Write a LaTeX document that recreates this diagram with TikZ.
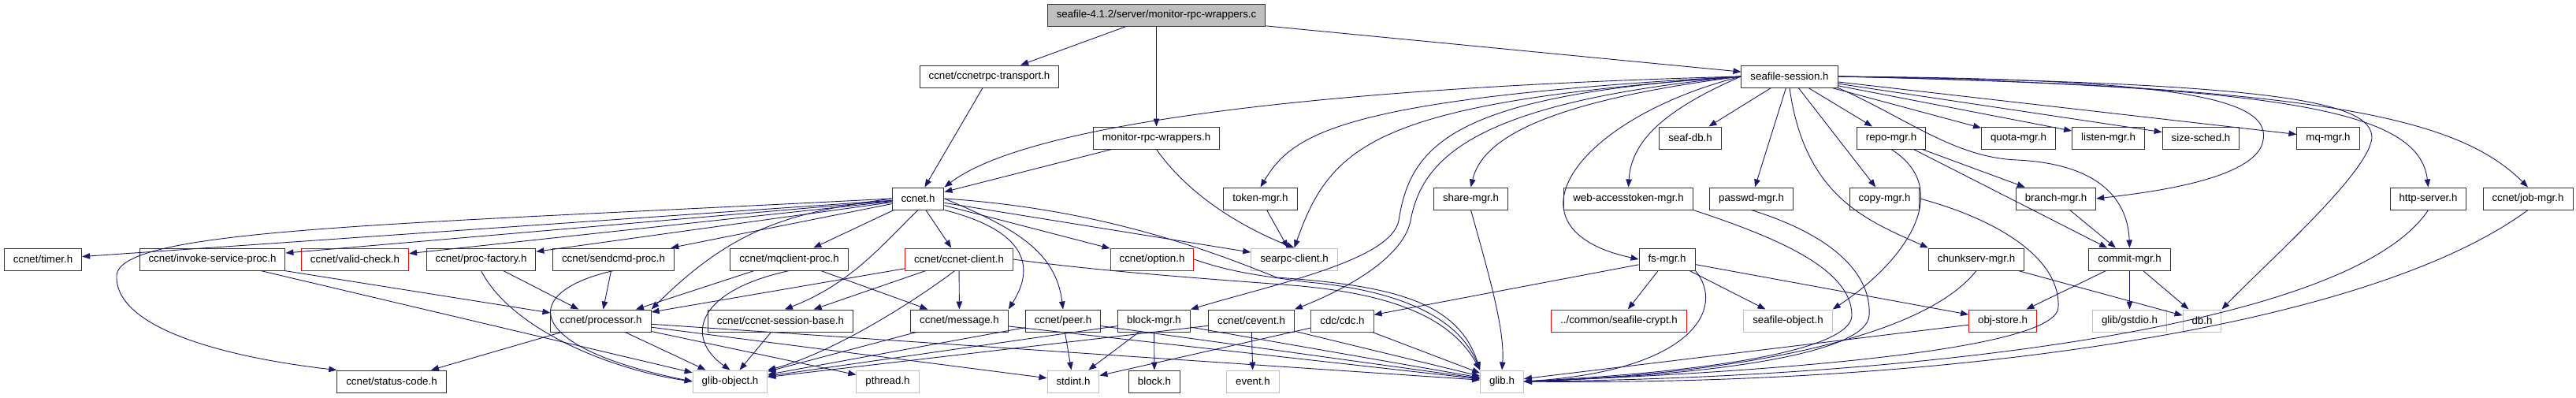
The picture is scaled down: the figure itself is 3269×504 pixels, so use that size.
\documentclass[tikz,border=0pt]{standalone}
\usepackage{fontspec}
\setmainfont{Liberation Sans}
\usetikzlibrary{positioning, arrows.meta}

\definecolor{depblue}{HTML}{191970}
\definecolor{lightgray}{HTML}{BFBFBF}

\begin{document}
\begin{tikzpicture}[x=1pt, y=-1pt, ->, >={Triangle[length=10pt,width=7.5pt]},
  file/.style={draw=black!80, line width=1pt, fill=white, inner xsep=11.5pt, inner ysep=0pt,
               minimum height=28pt, font=\fontsize{13.3}{15}\selectfont},
  redfile/.style={file, draw=red},
  sysfile/.style={file, draw=lightgray},
  mainfile/.style={file, fill=lightgray},
  every edge/.style={draw=depblue, line width=0.9pt},
  dep/.style={draw=depblue, line width=0.9pt}]
  \useasboundingbox (0,0) rectangle (3269,504);

  % rows 0-3
  \node[mainfile] (main) at (1467.5,19.5) {seafile-4.1.2/server/monitor-rpc-wrappers.c};
  \node[file] (rpctrans) at (1255.5,97) {ccnet/ccnetrpc-transport.h};
  \node[file] (session) at (2271,97) {seafile-session.h};
  \node[file] (monwrap) at (1467.5,175) {monitor-rpc-wrappers.h};
  \node[file] (seafdb) at (2145,175) {seaf-db.h};
  \node[file] (repomgr) at (2400,175) {repo-mgr.h};
  \node[file] (quotamgr) at (2561.5,175) {quota-mgr.h};
  \node[file] (listenmgr) at (2675.5,175) {listen-mgr.h};
  \node[file] (sizesched) at (2793,175) {size-sched.h};
  \node[file] (mqmgr) at (2954.5,175) {mq-mgr.h};
  \node[file] (ccnet) at (1165,252) {ccnet.h};
  \node[file] (tokenmgr) at (1599.5,252) {token-mgr.h};
  \node[file] (sharemgr) at (1866.5,252) {share-mgr.h};
  \node[file] (webtoken) at (2066.5,252) {web-accesstoken-mgr.h};
  \node[file] (passwdmgr) at (2222.5,252) {passwd-mgr.h};
  \node[file] (copymgr) at (2391.5,252) {copy-mgr.h};
  \node[file] (branchmgr) at (2609,252) {branch-mgr.h};
  \node[file] (httpserver) at (3081.5,252) {http-server.h};
  \node[file] (jobmgr) at (3208,252) {ccnet/job-mgr.h};

  % row 4
  \node[file] (timer) at (54.5,329) {ccnet/timer.h};
  \node[file] (invoke) at (269.5,329) {ccnet/invoke-service-proc.h};
  \node[redfile] (validcheck) at (450.5,329) {ccnet/valid-check.h};
  \node[file] (procfactory) at (610.5,329) {ccnet/proc-factory.h};
  \node[file] (sendcmd) at (778.5,329) {ccnet/sendcmd-proc.h};
  \node[file] (mqclient) at (1001.5,329) {ccnet/mqclient-proc.h};
  \node[redfile] (client) at (1217,329) {ccnet/ccnet-client.h};
  \node[redfile] (option) at (1462,329) {ccnet/option.h};
  \node[sysfile] (searpc) at (1642.5,329) {searpc-client.h};
  \node[file] (fsmgr) at (2115.5,329) {fs-mgr.h};
  \node[file] (chunkserv) at (2508,329) {chunkserv-mgr.h};
  \node[file] (commitmgr) at (2702.5,329) {commit-mgr.h};

  % row 5
  \node[file] (processor) at (762.5,407) {ccnet/processor.h};
  \node[file] (sessbase) at (990.5,407) {ccnet/ccnet-session-base.h};
  \node[file] (message) at (1217.5,407) {ccnet/message.h};
  \node[file] (peer) at (1349,407) {ccnet/peer.h};
  \node[file] (blockmgr) at (1464.5,407) {block-mgr.h};
  \node[file] (cevent) at (1588,407) {ccnet/cevent.h};
  \node[redfile] (cdc) at (1703.5,407) {cdc/cdc.h};
  \node[redfile] (crypt) at (2054.5,407) {../common/seafile-crypt.h};
  \node[sysfile] (seafobj) at (2269,407) {seafile-object.h};
  \node[redfile] (objstore) at (2541.5,407) {obj-store.h};
  \node[sysfile] (gstdio) at (2702.5,407) {glib/gstdio.h};
  \node[sysfile] (dbh) at (2794.5,407) {db.h};

  % row 6
  \node[file] (statuscode) at (497,484) {ccnet/status-code.h};
  \node[sysfile] (globject) at (926.5,484) {glib-object.h};
  \node[sysfile] (pthread) at (1126.5,484) {pthread.h};
  \node[sysfile] (stdint) at (1362,484) {stdint.h};
  \node[file] (blockh) at (1465,484) {block.h};
  \node[sysfile] (event) at (1590,484) {event.h};
  \node[sysfile] (glibh) at (1906,484) {glib.h};

  % straight dependencies
  \path (main) edge (rpctrans) edge (monwrap) edge (session)
        (rpctrans) edge (ccnet)
        (monwrap) edge (ccnet)
        (tokenmgr) edge (searpc)
        (session) edge (seafdb) edge (repomgr) edge (quotamgr) edge (listenmgr)
                  edge (sizesched) edge (mqmgr) edge (passwdmgr) edge (copymgr)
        (ccnet) edge (timer) edge (invoke) edge (validcheck) edge (procfactory)
                edge (sendcmd) edge (mqclient) edge (client) edge (option) edge (searpc)
        (invoke) edge (processor) edge (globject)
        (procfactory) edge (processor)
        (sendcmd) edge (processor)
        (mqclient) edge (processor) edge (message)
        (client) edge (processor) edge (sessbase) edge (message)
        (processor) edge (statuscode) edge (globject) edge (pthread) edge (stdint) edge (glibh)
        (sessbase) edge (globject)
        (message) edge (globject) edge (glibh)
        (peer) edge (globject) edge (stdint) edge (glibh)
        (blockmgr) edge (globject) edge (stdint) edge (blockh) edge (glibh)
        (cevent) edge (globject) edge (event) edge (glibh)
        (cdc) edge (stdint) edge (glibh)
        (fsmgr) edge (cdc) edge (crypt) edge (seafobj) edge (objstore)
        (repomgr) edge (branchmgr) edge (commitmgr)
        (branchmgr) edge (commitmgr)
        (commitmgr) edge (objstore) edge (gstdio) edge (dbh)
        (chunkserv) edge (dbh)
        (objstore) edge (glibh);

  % curved dependencies
  \draw[dep] (session.west) .. controls (1650,112) and (1300,160) .. (ccnet.north east);
  \draw[dep] (session.west) .. controls (1700,125) and (1640,170) .. (tokenmgr.north);
  \draw[dep] (session.west) .. controls (1750,130) and (1690,180) .. (searpc.north);
  \draw[dep] (session.west) .. controls (1850,120) and (1790,180) .. (1775,280)
             .. controls (1765,330) and (1620,360) .. (blockmgr.north east);
  \draw[dep] (session.west) .. controls (1870,130) and (1805,200) .. (1790,280)
             .. controls (1780,330) and (1700,370) .. (cevent.north east);
  \draw[dep] (session.west) .. controls (1950,130) and (1880,180) .. (sharemgr.north);
  \draw[dep] (session.west) .. controls (2110,140) and (2070,180) .. (webtoken.north);
  \draw[dep] (session.west) .. controls (2000,150) and (1900,290) .. (fsmgr.west);
  \draw[dep] (session.south) .. controls (2290,250) and (2370,280) .. (chunkserv.north west);
  \draw[dep] (session.south east) .. controls (2420,150) and (2480,200) .. (2560,203)
             .. controls (2660,208) and (2700,250) .. (commitmgr.north);
  \draw[dep] (session.east) .. controls (2800,100) and (2890,130) .. (2870,185)
             .. controls (2850,230) and (2720,245) .. (branchmgr.east);
  \draw[dep] (session.east) .. controls (2900,105) and (3010,130) .. (3010,175)
             .. controls (3005,220) and (2880,330) .. (dbh.north east);
  \draw[dep] (session.east) .. controls (2900,110) and (3070,140) .. (httpserver.north);
  \draw[dep] (session.east) .. controls (2950,110) and (3120,150) .. (jobmgr.north);
  \draw[dep] (monwrap.south) .. controls (1510,250) and (1580,290) .. (searpc.north);
  \draw[dep] (ccnet.west) .. controls (500,285) and (150,290) .. (148,350)
             .. controls (146,420) and (300,455) .. (statuscode.north west);
  \draw[dep] (ccnet.west) .. controls (1000,270) and (930,290) .. (processor.north east);
  \draw[dep] (ccnet.south) .. controls (1120,310) and (1080,360) .. (sessbase.70);
  \draw[dep] (ccnet.south east) .. controls (1330,300) and (1300,360) .. (message.north east);
  \draw[dep] (ccnet.east) .. controls (1290,290) and (1340,320) .. (peer.north);
  \draw[dep] (ccnet.east) .. controls (1400,265) and (1540,320) .. (1620,352)
             .. controls (1760,362) and (1850,380) .. (glibh.north west);
  \draw[dep] (client.east) .. controls (1400,345) and (1550,355) .. (1640,362)
             .. controls (1760,372) and (1840,400) .. (glibh.north west);
  \draw[dep] (option.east) .. controls (1560,345) and (1600,350) .. (1660,358)
             .. controls (1770,368) and (1850,400) .. (glibh.north west);
  \draw[dep] (client.250) .. controls (1150,390) and (1050,450) .. (globject.north east);
  \draw[dep] (procfactory.south) .. controls (650,420) and (780,470) .. (globject.west);
  \draw[dep] (sendcmd.south) .. controls (660,370) and (660,440) .. (globject.west);
  \draw[dep] (mqclient.south) .. controls (880,370) and (870,430) .. (globject.north);
  \draw[dep] (fsmgr.south east) .. controls (2190,390) and (2150,470) .. (glibh.east);
  \draw[dep] (repomgr.south) .. controls (2480,240) and (2420,330) .. (seafobj.north east);
  \draw[dep] (chunkserv.south) .. controls (2440,430) and (2200,475) .. (glibh.east);
  \draw[dep] (webtoken.south east) .. controls (2250,300) and (2350,340) .. (2350,400)
             .. controls (2350,440) and (2200,470) .. (glibh.east);
  \draw[dep] (passwdmgr.south) .. controls (2330,300) and (2375,350) .. (2372,400)
             .. controls (2370,445) and (2200,475) .. (glibh.east);
  \draw[dep] (copymgr.east) .. controls (2540,280) and (2615,330) .. (2612,390)
             .. controls (2610,440) and (2300,470) .. (glibh.east);
  \draw[dep] (httpserver.south) .. controls (2980,420) and (2400,480) .. (glibh.east);
  \draw[dep] (jobmgr.south) .. controls (3000,420) and (2450,490) .. (glibh.east);
  \draw[dep] (sharemgr.south) .. controls (1890,350) and (1910,420) .. (glibh.north);
\end{tikzpicture}
\end{document}
